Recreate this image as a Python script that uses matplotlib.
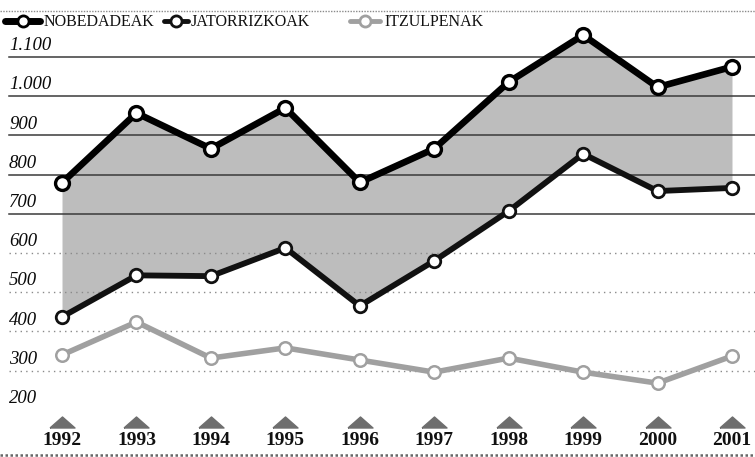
import matplotlib
matplotlib.use("Agg")
import matplotlib.pyplot as plt
from matplotlib.lines import Line2D

# values
years = [1992, 1993, 1994, 1995, 1996, 1997, 1998, 1999, 2000, 2001]
nobedadeak = [779, 957, 866, 970, 780, 866, 1036, 1156, 1023, 1075]
jatorrizkoak = [437, 543, 541, 613, 465, 580, 707, 853, 758, 766]
itzulpenak = [340, 424, 332, 358, 327, 296, 332, 296, 268, 337]

grid_dark = [700, 800, 900, 1000, 1100]
grid_light = [300, 400, 500, 600]
tick_values = [200, 300, 400, 500, 600, 700, 800, 900, 1000, 1100]
tick_labels = ["200", "300", "400", "500", "600", "700", "800", "900", "1.000", "1.100"]

legend_labels = ["NOBEDADEAK", "JATORRIZKOAK", "ITZULPENAK"]

serif = ["Liberation Serif", "DejaVu Serif"]

fig = plt.figure(figsize=(7.55, 4.57), dpi=100)
ax = fig.add_axes([0, 0, 1, 1])
ax.set_xlim(1991.167, 2001.309)
ax.set_ylim(79.6, 1245.4)
ax.axis("off")

# shaded band between the two upper series
ax.fill_between(years, jatorrizkoak, nobedadeak, color="#bdbdbd", zorder=1, linewidth=0)

# horizontal grid
for v in grid_dark:
    ax.axhline(v, xmin=0.012, xmax=1, color="#3a3a3a", linewidth=1.1, zorder=2)
for v in grid_light:
    ax.axhline(v, xmin=0.012, xmax=1, color="#8a8a8a", linewidth=1.0,
               linestyle=(0, (1, 3)), zorder=2)

# y labels
for v, lab in zip(tick_values, tick_labels):
    ax.annotate(lab, xy=(0.012, v), xycoords=("axes fraction", "data"),
                xytext=(0, 2), textcoords="offset points",
                ha="left", va="bottom", fontsize=13.5, style="italic",
                family=serif, color="#0a0a0a")

# series
ax.plot(years, itzulpenak, color="#a0a0a0", linewidth=4.0, marker="o",
        markersize=9, markerfacecolor="white", markeredgecolor="#a0a0a0",
        markeredgewidth=1.8, zorder=3, solid_joinstyle="round")
ax.plot(years, jatorrizkoak, color="#111111", linewidth=4.2, marker="o",
        markersize=9, markerfacecolor="white", markeredgecolor="#111111",
        markeredgewidth=2.0, zorder=4, solid_joinstyle="round")
ax.plot(years, nobedadeak, color="black", linewidth=4.8, marker="o",
        markersize=10, markerfacecolor="white", markeredgecolor="black",
        markeredgewidth=2.4, zorder=5, solid_joinstyle="round")

# year triangles and labels
flat_tri = [(-1, -0.44), (1, -0.44), (0, 0.44), (-1, -0.44)]
ax.plot(years, [168] * len(years), linestyle="none", marker=flat_tri,
        markersize=18, color="#6e6e6e", zorder=3)
for y in years:
    ax.text(y, 122, str(y), ha="center", va="center", fontsize=14,
            fontweight="bold", family=serif, color="#111111")

# top / bottom rules
ax.axhline(1218, color="#8a8a8a", linewidth=1.0, linestyle=(0, (1, 1)), zorder=2)
ax.axhline(85, color="#666666", linewidth=1.8, linestyle=(0, (1, 1)), zorder=2)

# legend drawn by hand in pixel coordinates
lg = fig.add_axes([0, 0, 1, 1])
lg.set_xlim(0, 755)
lg.set_ylim(457, 0)
lg.axis("off")
leg_styles = [
    ("black", 5.0, 5, 40, 44),
    ("#111111", 3.5, 164, 188, 191),
    ("#a0a0a0", 3.5, 350, 380, 384),
]
for (col, lw, x0, x1, tx), lab in zip(leg_styles, legend_labels):
    lg.add_line(Line2D([x0, x1], [21, 21], color=col, linewidth=lw,
                       solid_capstyle="round"))
    lg.plot([(x0 + x1) / 2], [21], marker="o", markersize=8,
            markerfacecolor="white", markeredgecolor=col, markeredgewidth=2)
    lg.text(tx, 22, lab, ha="left", va="center", fontsize=11.5,
            family=serif, color="#111111")

fig.savefig("out.png", dpi=100)
